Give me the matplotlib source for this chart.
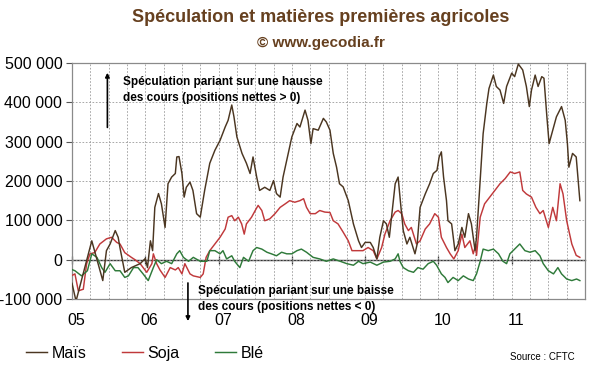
import matplotlib
matplotlib.use("Agg")
import matplotlib.pyplot as plt
import numpy as np

plt.rcParams['font.family'] = ['Liberation Sans', 'DejaVu Sans']

# ---- data (values in thousands of contracts, dates in decimal years) ----
mais_dates = [2005.00, 2005.055, 2005.27, 2005.42, 2005.47, 2005.52, 2005.59, 2005.63, 2005.655, 2005.72,
              2005.81, 2005.93, 2006.00, 2006.03, 2006.07, 2006.10, 2006.13, 2006.18, 2006.22, 2006.27,
              2006.31, 2006.36, 2006.41, 2006.43, 2006.46, 2006.50, 2006.53, 2006.56, 2006.61, 2006.65,
              2006.70, 2006.75, 2006.81, 2006.88, 2006.95, 2007.02, 2007.09, 2007.13, 2007.18, 2007.21,
              2007.25, 2007.32, 2007.38, 2007.43, 2007.47, 2007.52, 2007.56, 2007.63, 2007.70, 2007.75,
              2007.79, 2007.84, 2007.88, 2007.93, 2008.00, 2008.07, 2008.11, 2008.18, 2008.22, 2008.26,
              2008.29, 2008.36, 2008.43, 2008.47, 2008.52, 2008.565, 2008.61, 2008.65, 2008.70, 2008.77,
              2008.84, 2008.91, 2008.95, 2009.00, 2009.07, 2009.11, 2009.16, 2009.20, 2009.25, 2009.29,
              2009.33, 2009.36, 2009.41, 2009.45, 2009.48, 2009.52, 2009.57, 2009.61, 2009.68, 2009.71,
              2009.75, 2009.82, 2009.88, 2009.93, 2009.98, 2010.01, 2010.04, 2010.07, 2010.11, 2010.13,
              2010.18, 2010.225, 2010.27, 2010.32, 2010.36, 2010.41, 2010.45, 2010.50, 2010.52, 2010.57,
              2010.61, 2010.66, 2010.69, 2010.75, 2010.79, 2010.84, 2010.89, 2010.93, 2011.00, 2011.04,
              2011.09, 2011.15, 2011.20, 2011.24, 2011.27, 2011.32, 2011.36, 2011.41, 2011.44, 2011.48,
              2011.51, 2011.56, 2011.61, 2011.68, 2011.73, 2011.76, 2011.78, 2011.83, 2011.88, 2011.93]
mais_values = [-60, -105, 48, -53, 23, 40, 74, 57, 30, -32,
               -20, -10, 3, -20, 48, 23, 133, 168, 142, 82,
               193, 210, 219, 261, 262, 219, 159, 184, 197, 176,
               117, 108, 176, 245, 278, 303, 337, 354, 393, 363,
               312, 270, 245, 219, 261, 210, 176, 184, 176, 201,
               168, 159, 210, 253, 312, 346, 337, 380, 354, 295,
               333, 329, 359, 350, 329, 270, 235, 193, 185, 150,
               91, 48, 31, 44, 44, 31, 2, 57, 99, 91,
               57, 108, 193, 210, 150, 74, 40, 57, 15, 40,
               133, 167, 193, 219, 227, 261, 274, 210, 150, 99,
               91, 23, 40, 82, 57, 117, 91, 23, 57, 201,
               320, 397, 435, 469, 440, 431, 397, 440, 474, 465,
               497, 482, 440, 389, 431, 469, 440, 465, 461, 363,
               295, 329, 363, 389, 354, 295, 235, 270, 261, 150]

soja_dates = [2005.00, 2005.04, 2005.086, 2005.154, 2005.20, 2005.245, 2005.31, 2005.38, 2005.47, 2005.54,
              2005.61, 2005.655, 2005.72, 2005.81, 2005.86, 2005.93, 2006.02, 2006.09, 2006.11, 2006.155,
              2006.20, 2006.27, 2006.34, 2006.41, 2006.45, 2006.50, 2006.54, 2006.61, 2006.655, 2006.75,
              2006.79, 2006.83, 2006.88, 2006.95, 2007.02, 2007.09, 2007.13, 2007.18, 2007.22, 2007.27,
              2007.315, 2007.35, 2007.38, 2007.45, 2007.50, 2007.54, 2007.59, 2007.63, 2007.70, 2007.77,
              2007.84, 2007.91, 2007.97, 2008.04, 2008.11, 2008.16, 2008.20, 2008.25, 2008.32, 2008.38,
              2008.45, 2008.52, 2008.565, 2008.63, 2008.70, 2008.77, 2008.82, 2008.88, 2008.97, 2009.04,
              2009.11, 2009.16, 2009.225, 2009.27, 2009.34, 2009.41, 2009.45, 2009.50, 2009.54, 2009.59,
              2009.63, 2009.70, 2009.75, 2009.82, 2009.88, 2009.95, 2010.00, 2010.04, 2010.11, 2010.16,
              2010.21, 2010.27, 2010.32, 2010.36, 2010.43, 2010.475, 2010.51, 2010.52, 2010.57, 2010.63,
              2010.70, 2010.77, 2010.84, 2010.91, 2010.98, 2011.04, 2011.11, 2011.15, 2011.20, 2011.27,
              2011.33, 2011.385, 2011.43, 2011.50, 2011.56, 2011.61, 2011.66, 2011.70, 2011.75, 2011.82,
              2011.88, 2011.93]
soja_values = [-40, -36, -79, -75, -10, 15, 18, 40, 53, 57,
               44, 40, 18, 6, 0, -10, -32, -10, 15, -10,
               -26, -45, -20, -26, -20, -36, -10, -36, -41, -45,
               -36, 6, 23, 40, 57, 78, 108, 112, 99, 108,
               91, 65, 91, 108, 125, 138, 125, 99, 104, 117,
               133, 142, 150, 146, 150, 155, 133, 117, 117, 125,
               121, 120, 99, 91, 70, 48, 23, 23, 23, 31,
               23, 2, 31, 65, 99, 121, 125, 117, 91, 74,
               82, 40, 48, 78, 91, 117, 108, 57, 31, 15,
               2, 23, 65, 31, 48, 15, 40, 11, 108, 142,
               159, 176, 193, 206, 223, 219, 223, 176, 167, 159,
               133, 117, 125, 82, 133, 99, 193, 167, 99, 40,
               11, 6]

ble_dates = [2005.00, 2005.04, 2005.13, 2005.21, 2005.27, 2005.34, 2005.405, 2005.45, 2005.52, 2005.59,
             2005.655, 2005.72, 2005.77, 2005.84, 2005.90, 2005.97, 2006.04, 2006.11, 2006.155, 2006.22,
             2006.29, 2006.36, 2006.43, 2006.47, 2006.52, 2006.59, 2006.655, 2006.75, 2006.84, 2006.88,
             2006.95, 2007.02, 2007.06, 2007.11, 2007.18, 2007.22, 2007.29, 2007.34, 2007.41, 2007.47,
             2007.52, 2007.59, 2007.66, 2007.72, 2007.79, 2007.86, 2007.93, 2008.00, 2008.07, 2008.13,
             2008.20, 2008.29, 2008.38, 2008.47, 2008.565, 2008.66, 2008.75, 2008.84, 2008.91, 2008.97,
             2009.07, 2009.16, 2009.25, 2009.34, 2009.41, 2009.45, 2009.475, 2009.52, 2009.59, 2009.66,
             2009.72, 2009.79, 2009.86, 2009.93, 2009.975, 2010.04, 2010.09, 2010.13, 2010.20, 2010.27,
             2010.34, 2010.41, 2010.475, 2010.52, 2010.57, 2010.61, 2010.68, 2010.75, 2010.82, 2010.88,
             2010.93, 2010.975, 2011.04, 2011.11, 2011.18, 2011.25, 2011.32, 2011.385, 2011.43, 2011.50,
             2011.57, 2011.63, 2011.68, 2011.75, 2011.82, 2011.885, 2011.93]
ble_values = [-25, -28, -41, -28, 15, 6, -20, -32, -10, -28,
              -28, -45, -41, -20, -20, -36, -53, -20, 0, -10,
              -4, -10, 15, 23, 6, -4, 6, -4, -4, 23,
              23, 15, 23, 2, 10, -4, -20, 6, -4, 23,
              31, 27, 19, 15, 10, 19, 15, 15, 23, 27,
              19, 6, 2, -4, 2, -4, -10, -14, -4, -10,
              -6, -14, -6, -4, 2, 15, -4, -20, -28, -32,
              -20, -24, -10, -4, -14, -36, -45, -58, -45, -53,
              -41, -49, -53, -36, -4, 27, 23, 27, 15, -4,
              -10, 15, 27, 40, 23, 19, 23, 10, -10, -28,
              -36, -20, -36, -49, -53, -49, -53]

years = [2005, 2006, 2007, 2008, 2009, 2010, 2011]
year_labels = ['05', '06', '07', '08', '09', '10', '11']
yticks = [-100, 0, 100, 200, 300, 400, 500]

c_mais = '#4b3621'
c_soja = '#c0393b'
c_ble = '#2f7a3a'
c_title = '#66401f'

fig = plt.figure(figsize=(6.0, 3.72), dpi=100)
ax = fig.add_axes([0.12, 0.196, 0.855, 0.635])

ax.plot(mais_dates, mais_values, color=c_mais, lw=1.05, label='Maïs', zorder=4)
ax.plot(soja_dates, soja_values, color=c_soja, lw=1.05, label='Soja', zorder=3)
ax.plot(ble_dates, ble_values, color=c_ble, lw=1.05, label='Blé', zorder=3)

ax.set_xlim(2005.0, 2012.0)
ax.set_ylim(-100, 500)

# grid: quarterly vertical, 100k horizontal
ax.set_yticks(yticks)
ax.set_yticklabels([f"{v*1000:,}".replace(",", " ") for v in yticks], fontsize=11.5)
ax.set_xticks(np.arange(2005.25, 2012.0, 0.25), minor=False)
ax.set_xticklabels([])
ax.tick_params(axis='x', length=0)
ax.tick_params(axis='y', length=4, direction='out', color='#555555', pad=3)
ax.grid(True, color='#9a9a9a', linestyle=(0, (2, 2)), linewidth=0.6)
for s in ax.spines.values():
    s.set_color('#8a8a8a')
    s.set_linewidth(0.9)

# zero line with yearly ticks
sec = ax.secondary_xaxis(1 / 6)
sec.set_xticks(years)
sec.set_xticklabels([])
sec.tick_params(axis='x', direction='inout', length=6, color='#333333', width=0.9)
sec.spines['bottom'].set_color('#333333')
sec.spines['top'].set_color('#333333')
sec.spines['bottom'].set_linewidth(1.0)
sec.spines['top'].set_linewidth(1.0)

for yr, lab in zip(years, year_labels):
    ax.text(yr + 0.06, -0.09, lab, transform=ax.get_xaxis_transform(),
            ha='center', va='center', fontsize=11.5)

# annotations
ax.annotate('', xy=(0.069, 0.97), xytext=(0.069, 0.715), xycoords='axes fraction',
            arrowprops=dict(arrowstyle='-|>', color='black', lw=1.2, mutation_scale=6))
ax.text(0.0995, 0.885, 'Spéculation pariant sur une hausse\ndes cours (positions nettes > 0)',
        transform=ax.transAxes, fontsize=8.5, fontweight='bold', ha='left', va='center',
        linespacing=1.45)
ax.annotate('', xy=(0.226, -0.105), xytext=(0.226, 0.08), xycoords='axes fraction',
            arrowprops=dict(arrowstyle='-|>', color='black', lw=1.2, mutation_scale=6),
            annotation_clip=False)
ax.text(0.245, 0.0, 'Spéculation pariant sur une baisse\ndes cours (positions nettes < 0)',
        transform=ax.transAxes, fontsize=8.5, fontweight='bold', ha='left', va='center',
        linespacing=1.45, zorder=6)

fig.text(0.535, 0.953, 'Spéculation et matières premières agricoles', ha='center', va='center',
         fontsize=13, fontweight='bold', color=c_title)
fig.text(0.535, 0.885, '© www.gecodia.fr', ha='center', va='center',
         fontsize=11, fontweight='bold', color=c_title)

leg = fig.legend(loc='center left', bbox_to_anchor=(0.02, 0.05), ncol=3, frameon=False,
                 fontsize=11.5, handlelength=1.3, handletextpad=0.3, columnspacing=2.2)
fig.text(0.958, 0.04, 'Source : CFTC', ha='right', va='center', fontsize=7)

fig.savefig('out.png', dpi=100, facecolor='white')
